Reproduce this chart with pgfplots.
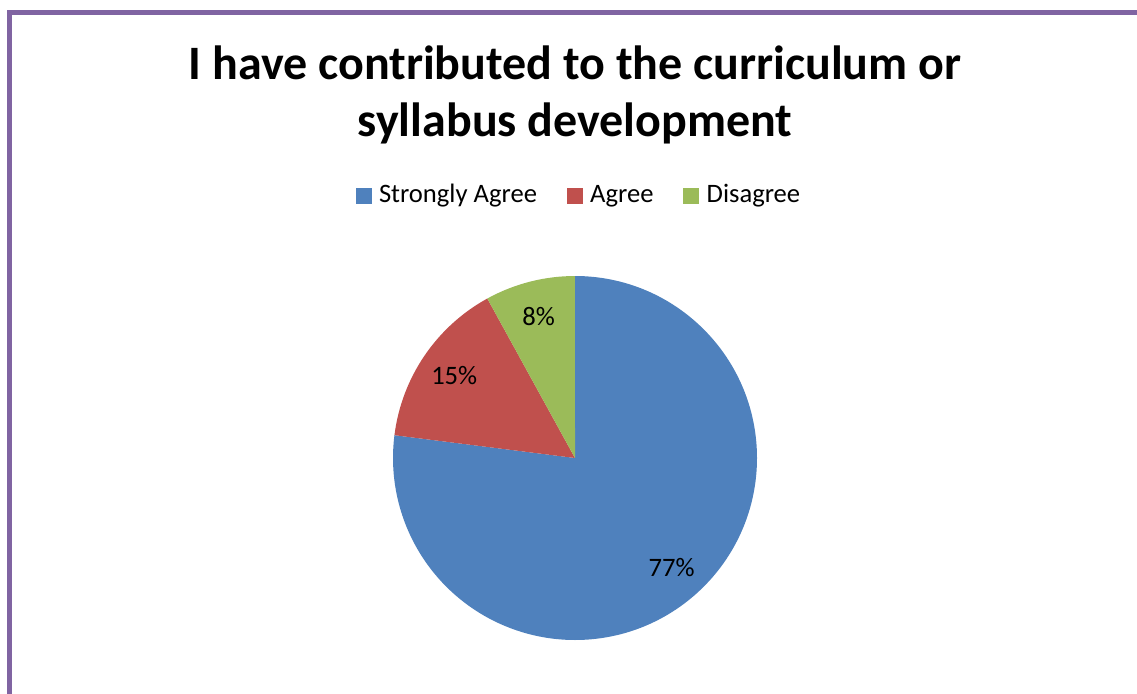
\documentclass[border=0pt]{standalone}
\usepackage{pgfplots}
\pgfplotsset{compat=1.18}
\usepackage{pgfplotstable}
\usetikzlibrary{calc}
\usepackage{fontspec}
\setmainfont{Carlito}
\definecolor{sblue}{HTML}{4F81BD}
\definecolor{sred}{HTML}{C0504D}
\definecolor{sgreen}{HTML}{9BBB59}
\definecolor{spurple}{HTML}{8064A2}
\pgfplotstableread{
label value
{Strongly Agree} 77
Agree 15
Disagree 8
}\piedata
\begin{document}
\begin{tikzpicture}
\pgfplotstablegetelem{0}{value}\of\piedata \let\va\pgfplotsretval
\pgfplotstablegetelem{1}{value}\of\piedata \let\vb\pgfplotsretval
\pgfplotstablegetelem{2}{value}\of\piedata \let\vc\pgfplotsretval
\pgfmathsetmacro{\tot}{\va+\vb+\vc}
\pgfmathsetmacro{\aA}{90}
\pgfmathsetmacro{\aB}{\aA-360*(\va/\tot)}
\pgfmathsetmacro{\aC}{\aB-360*(\vb/\tot)}
\pgfmathsetmacro{\aD}{\aC-360*(\vc/\tot)}
\pgfmathsetmacro{\mA}{(\aA+\aB)/2}
\pgfmathsetmacro{\mB}{(\aB+\aC)/2}
\pgfmathsetmacro{\mC}{(\aC+\aD)/2}
\useasboundingbox (0,0) rectangle (568.5pt,346.5pt);
\begin{axis}[
  at={(0,0)}, anchor=south west,
  scale only axis, width=568.5pt, height=346.5pt,
  xmin=0, xmax=1137, ymin=0, ymax=693,
  hide axis, clip=false,
  legend columns=3,
  legend style={at={(axis cs:580,497)}, anchor=center, draw=none, fill=none,
    font=\fontsize{13.3}{16}\selectfont,
    nodes={text height=9pt, text depth=3pt},
    /tikz/every odd column/.append style={column sep=1.7pt},
    /tikz/every even column/.append style={column sep=13pt},
    inner sep=0pt},
  legend image code/.code={\fill[#1] (0pt,-3.5pt) rectangle (7.5pt,4pt);},
]
\addlegendimage{sblue}\addlegendentry{Strongly Agree}
\addlegendimage{sred}\addlegendentry{Agree}
\addlegendimage{sgreen}\addlegendentry{Disagree}
\fill[sblue] (axis cs:575,235) -- ++(\aA:91pt) arc[start angle=\aA, end angle=\aB, radius=91pt] -- cycle;
\fill[sred] (axis cs:575,235) -- ++(\aB:91pt) arc[start angle=\aB, end angle=\aC, radius=91pt] -- cycle;
\fill[sgreen] (axis cs:575,235) -- ++(\aC:91pt) arc[start angle=\aC, end angle=\aD, radius=91pt] -- cycle;
\node[font=\fontsize{13.3}{16}\selectfont] at ($(axis cs:575,235)+(\mA:73pt)$) {\va\%};
\node[font=\fontsize{13.3}{16}\selectfont] at ($(axis cs:575,235)+(\mB:73pt)$) {\vb\%};
\node[font=\fontsize{13.3}{16}\selectfont] at ($(axis cs:575,235)+(\mC:73pt)$) {\vc\%};
\node[font=\bfseries\fontsize{24}{28.5}\selectfont, align=center] at (axis cs:575,598) {I have contributed to the curriculum or\\syllabus development};
\end{axis}
\draw[spurple, line width=2.5pt, line cap=rect] (4.5pt,0pt) -- (4.5pt,340.5pt) -- (568.5pt,340.5pt);
\end{tikzpicture}
\end{document}
